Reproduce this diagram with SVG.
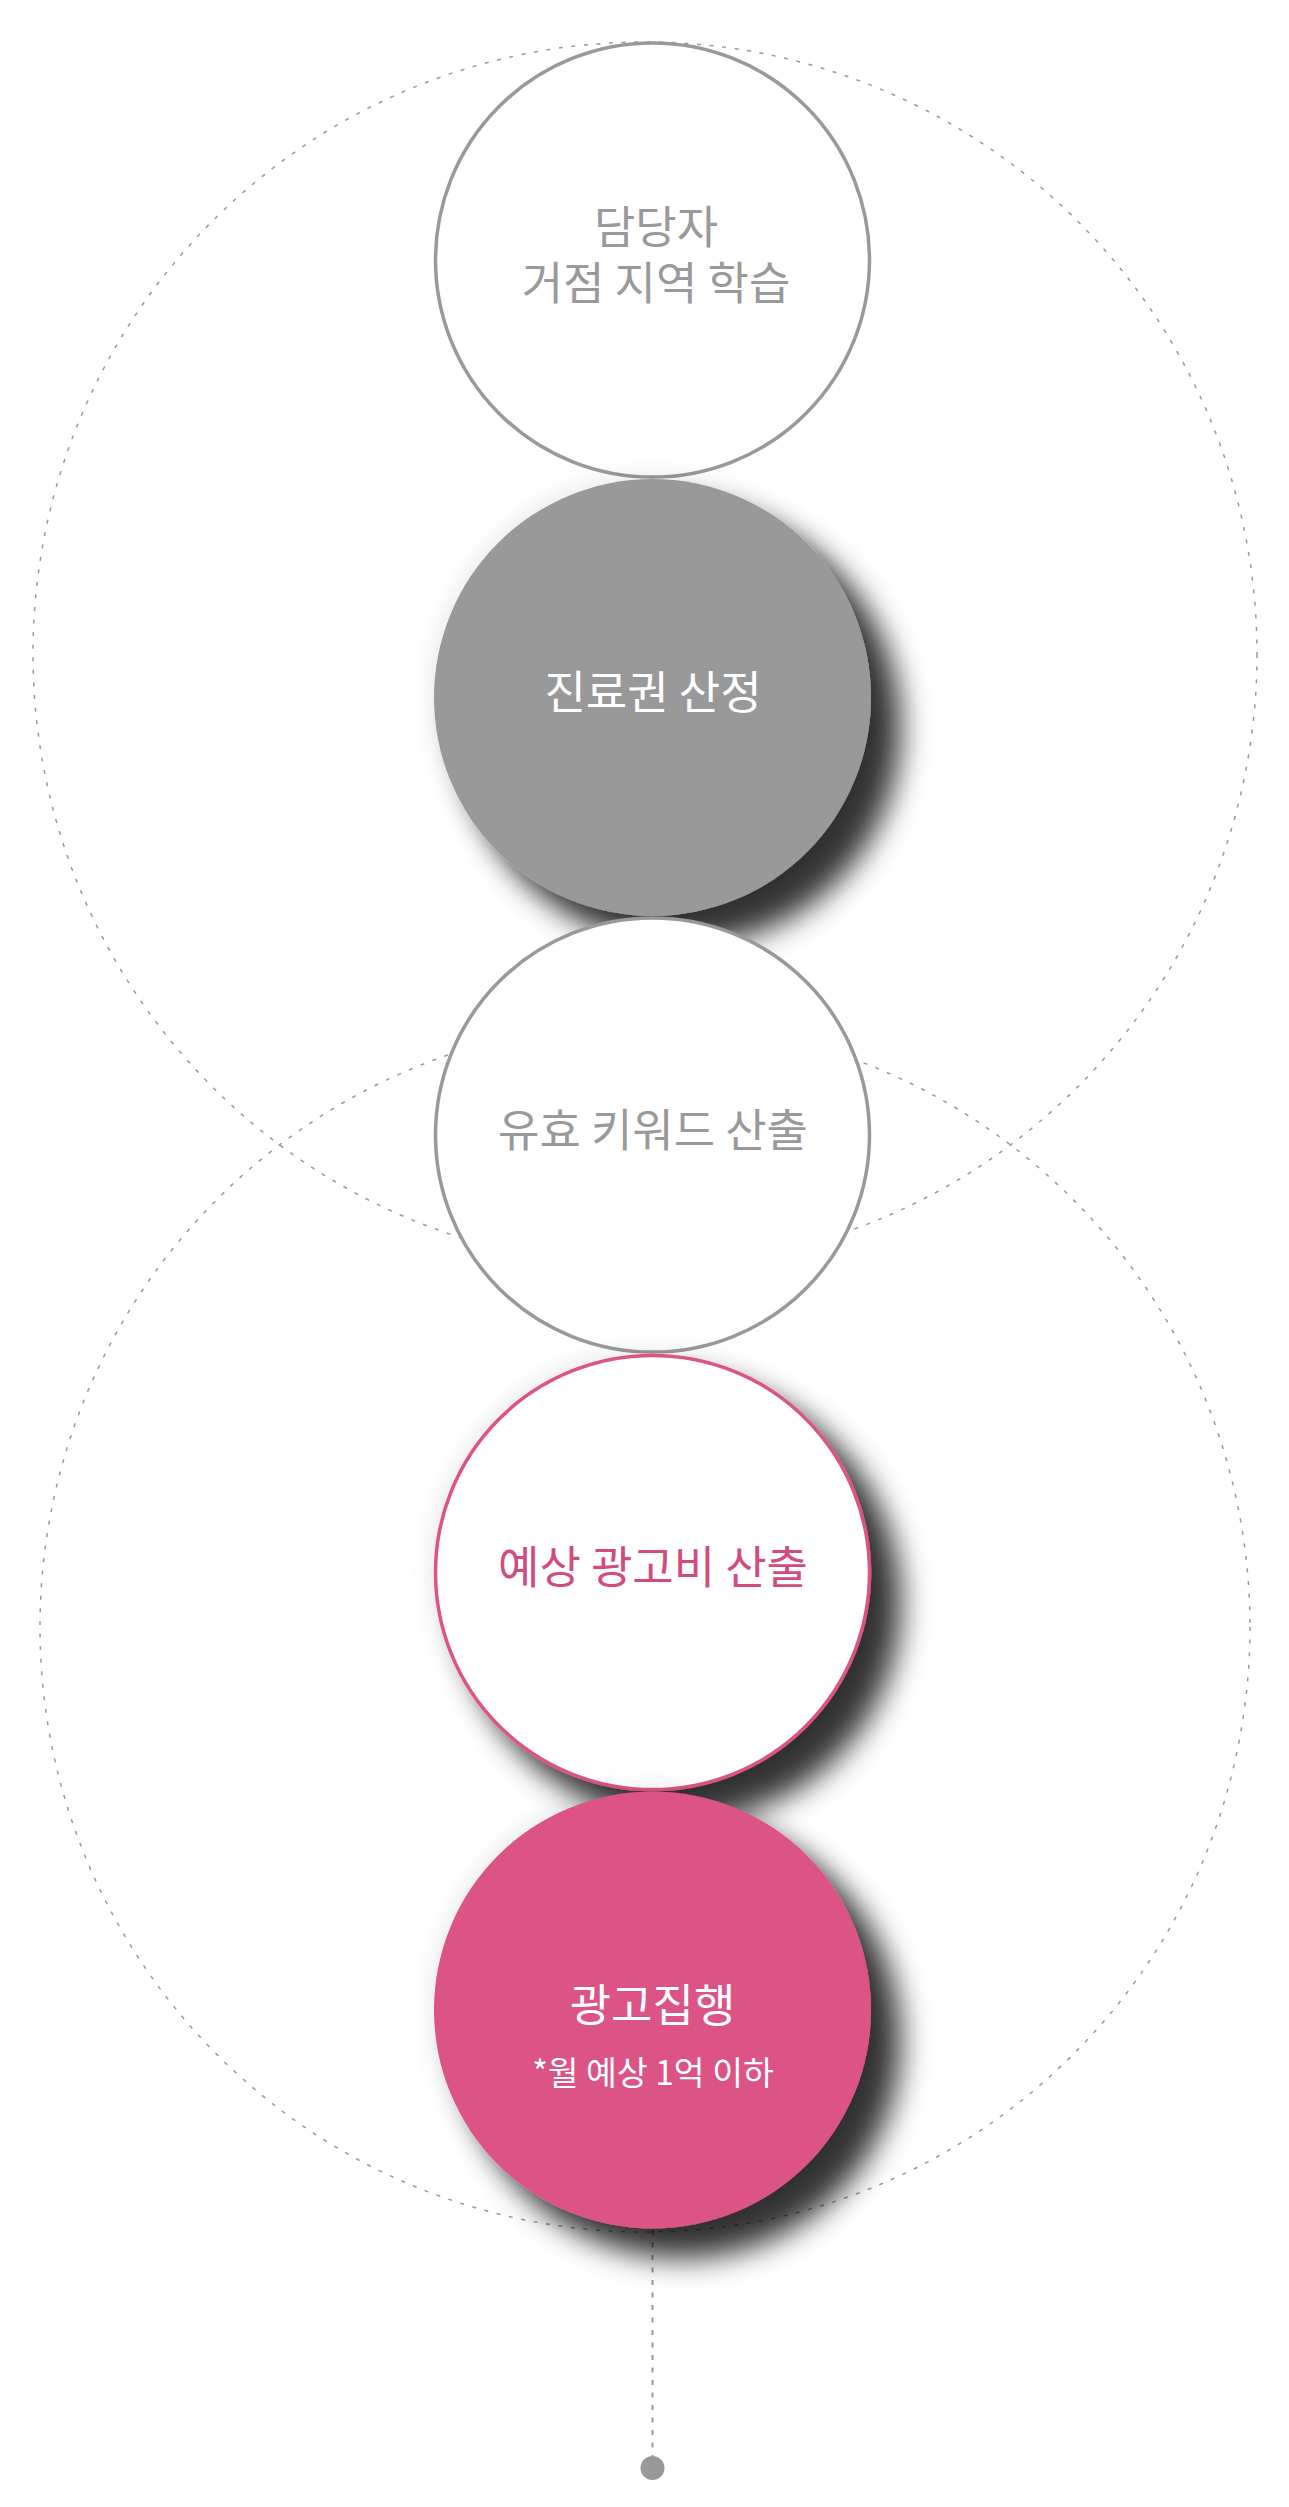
<svg xmlns="http://www.w3.org/2000/svg" width="1289" height="2507" viewBox="0 0 1289 2507">
  <style>
    .guide { fill: none; stroke: #9a9a9a; stroke-width: 1.5; stroke-dasharray: 4 8.6; }
    .stem { fill: none; stroke: #999; stroke-width: 2; stroke-dasharray: 5 7.5; }
    .outline-gray { fill: #fff; stroke: #999; stroke-width: 3.5; }
    .outline-pink { fill: #fff; stroke: #dc5286; stroke-width: 3.5; }
    .fill-gray { fill: #999; }
    .fill-pink { fill: #dc5286; }
    text { font-family: "Noto Sans CJK KR", "Noto Sans", sans-serif; text-anchor: middle; font-size: 45px; }
    .t-gray { fill: #999; }
    .t-white { fill: #fff; }
    .t-pink { fill: #d24b7e; }
    .small { font-size: 33.5px; }
  </style>
  <defs>
    <filter id="shadow" x="-35%" y="-35%" width="180%" height="180%">
      <feGaussianBlur in="SourceAlpha" stdDeviation="13" result="halo"/>
      <feComponentTransfer in="halo" result="haloFaint">
        <feFuncA type="linear" slope="0.12"/>
      </feComponentTransfer>
      <feGaussianBlur in="SourceAlpha" stdDeviation="15" result="blur"/>
      <feOffset in="blur" dx="30" dy="30" result="off"/>
      <feComponentTransfer in="off" result="dark">
        <feFuncA type="linear" slope="0.8"/>
      </feComponentTransfer>
      <feMerge>
        <feMergeNode in="haloFaint"/>
        <feMergeNode in="dark"/>
        <feMergeNode in="SourceGraphic"/>
      </feMerge>
    </filter>
  </defs>
  <rect width="1289" height="2507" fill="#fff"/>

  <g id="connectors">
    <circle class="guide" cx="645" cy="654" r="612"/>
    <circle class="guide" cx="645" cy="1627" r="605"/>
    <line class="stem" x1="652.5" y1="2230" x2="652.5" y2="2458"/>
    <circle cx="652.5" cy="2468" r="12" fill="#999"/>
  </g>

  <g id="node1">
    <circle class="outline-gray" cx="652.5" cy="260" r="217"/>
    <text class="t-gray"><tspan x="656" y="244">담당자</tspan><tspan x="656" y="300">거점 지역 학습</tspan></text>
  </g>

  <g id="node2">
    <circle class="fill-gray" cx="652.5" cy="697.5" r="218.5" filter="url(#shadow)"/>
    <text class="t-white" x="653" y="709">진료권 산정</text>
  </g>

  <g id="node3">
    <circle class="outline-gray" cx="652.5" cy="1135" r="217"/>
    <text class="t-gray" x="653" y="1147">유효 키워드 산출</text>
  </g>

  <g id="node4">
    <circle class="outline-pink" cx="652.5" cy="1572.5" r="217" filter="url(#shadow)"/>
    <text class="t-pink" x="653" y="1584">예상 광고비 산출</text>
  </g>

  <g id="node5">
    <circle class="fill-pink" cx="652.5" cy="2010" r="218.5" filter="url(#shadow)"/>
    <text class="t-white" x="652.5" y="2021.5">광고집행</text>
    <text class="t-white small" x="653" y="2085">*월 예상 1억 이하</text>
  </g>
</svg>
